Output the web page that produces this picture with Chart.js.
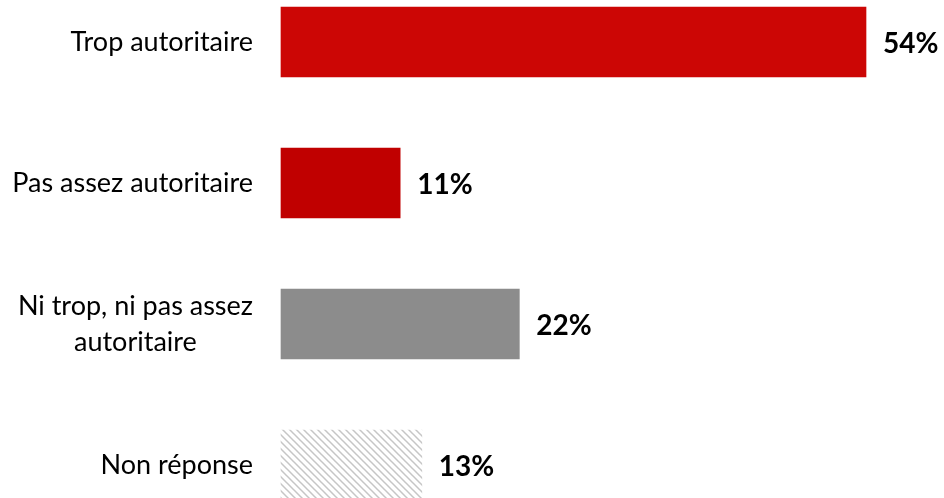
<!DOCTYPE html>
<html>
<head>
<meta charset="utf-8">
<script src="https://cdn.jsdelivr.net/npm/chart.js@4"></script>
<style>
  html, body { margin: 0; padding: 0; background: #fff; }
  #wrap { width: 944px; height: 498px; position: relative; }
</style>
</head>
<body>
<div id="wrap"><canvas id="autoriteChart"></canvas></div>
<script>
// --- DATA ---
const categories = [
    ['Trop autoritaire'],
    ['Pas assez autoritaire'],
    ['Ni trop, ni pas assez', 'autoritaire'],
    ['Non réponse']
];
const percentages = [54, 11, 22, 13];
const valueLabels = ['54%', '11%', '22%', '13%'];

// diagonal hatch used for the "no answer" bar
function makeHatch() {
    const size = 7;
    const c = document.createElement('canvas');
    c.width = size;
    c.height = size;
    const g = c.getContext('2d');
    g.fillStyle = '#ffffff';
    g.fillRect(0, 0, size, size);
    g.strokeStyle = '#c6c6c6';
    g.lineWidth = 1.5;
    g.beginPath();
    g.moveTo(-1, -1);
    g.lineTo(size + 1, size + 1);
    g.moveTo(-1, size - 1);
    g.lineTo(1, size + 1);
    g.moveTo(size - 1, -1);
    g.lineTo(size + 1, 1);
    g.stroke();
    return g.createPattern(c, 'repeat');
}

const barColors = ['#cc0605', '#c00000', '#8c8c8c', makeHatch()];

// category names on the left and the percentages after each bar
const labelPlugin = {
    id: 'barLabels',
    afterDatasetsDraw(chart) {
        const ctx = chart.ctx;
        const yScale = chart.scales.y;
        const meta = chart.getDatasetMeta(0);
        ctx.save();
        ctx.fillStyle = '#000';
        ctx.textBaseline = 'middle';

        ctx.font = '27px Lato, "Open Sans", sans-serif';
        ctx.textAlign = 'center';
        const rightEdge = 253;
        const lineHeight = 36;
        categories.forEach((lines, i) => {
            const cy = yScale.getPixelForTick(i);
            const widest = Math.max(...lines.map(l => ctx.measureText(l).width));
            const cx = rightEdge - widest / 2;
            const top = cy - (lines.length - 1) * lineHeight / 2;
            lines.forEach((l, k) => ctx.fillText(l, cx, top + k * lineHeight));
        });

        ctx.font = 'bold 28px Lato, "Open Sans", sans-serif';
        ctx.textAlign = 'left';
        meta.data.forEach((bar, i) => {
            ctx.fillText(valueLabels[i], bar.x + 17, bar.y + 2);
        });
        ctx.restore();
    }
};

new Chart(document.getElementById('autoriteChart'), {
    type: 'bar',
    data: {
        labels: categories,
        datasets: [{
            data: percentages,
            backgroundColor: barColors,
            borderWidth: 0,
            barThickness: 70,
            clip: false
        }]
    },
    options: {
        indexAxis: 'y',
        responsive: true,
        maintainAspectRatio: false,
        animation: false,
        layout: { padding: { left: 281, right: 13, top: 42, bottom: 33 } },
        scales: {
            x: { display: false, min: 0, max: 60 },
            y: { display: false, offset: false }
        },
        plugins: {
            legend: { display: false },
            tooltip: { enabled: false }
        }
    },
    plugins: [labelPlugin]
});
</script>
</body>
</html>
